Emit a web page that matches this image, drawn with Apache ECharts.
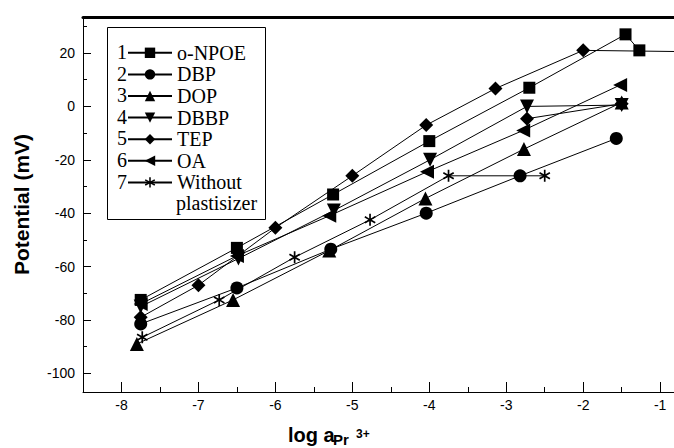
<!DOCTYPE html>
<html><head><meta charset="utf-8">
<script src="https://cdn.jsdelivr.net/npm/echarts@6/dist/echarts.min.js"></script>
<style>html,body{margin:0;padding:0;background:#fff}#c{width:674px;height:448px}</style>
</head><body><div id="c"></div>
<script>
// ---- data ----
const seriesNames = ['o-NPOE', 'DBP', 'DOP', 'DBBP', 'TEP', 'OA', 'Without\nplastisizer'];
const legendNumbers = ['1', '2', '3', '4', '5', '6', '7'];

const npoeX = [-7.75, -6.5, -5.25, -4.0, -2.7, -1.45, -1.27];
const npoeY = [-72.5, -53, -33, -13, 7, 27, 21];

const dbpX = [-7.75, -6.5, -5.28, -4.04, -2.82, -1.57];
const dbpY = [-81.5, -68, -53.5, -40, -26, -12];

const dopX = [-7.8, -6.55, -5.3, -4.05, -2.77, -1.5];
const dopY = [-89, -72.5, -54, -34.5, -16, 1.5];

const dbbpX = [-7.75, -6.48, -5.24, -3.99, -2.73, -1.5];
const dbbpY = [-75, -57, -39, -20, 0, 0.5];

const tepX = [-7.75, -7.0, -6.0, -5.0, -4.04, -3.14, -2.0, -0.6];
const tepY = [-79, -67, -45.5, -26, -7, 6.7, 21, 20.5];
const tep2X = [-2.73, -1.5];
const tep2Y = [-4.6, 1];

const oaX = [-7.75, -6.5, -5.3, -4.03, -2.78, -1.52];
const oaY = [-74, -56, -41, -24.5, -9, 8];

const withoutX = [-7.73, -6.73, -5.75, -4.77, -3.75, -2.5];
const withoutY = [-86.5, -72.5, -56.5, -42.5, -26, -26];

const xTickValues = [-8, -7, -6, -5, -4, -3, -2, -1];
const xMinorValues = [-7.5, -6.5, -5.5, -4.5, -3.5, -2.5, -1.5];
const yTickValues = [-100, -80, -60, -40, -20, 0, 20];
const yMinorValues = [-90, -70, -50, -30, -10, 10, 30];

const xTitleParts = ['log a', 'Pr', '3+'];
const yTitle = 'Potential (mV)';

// ---- helpers ----
function asterisk() {
  const R = 50, w = 7, pts = [];
  for (let k = 0; k < 6; k++) {
    const a = (90 + 60 * k) * Math.PI / 180;
    const dx = Math.cos(a), dy = -Math.sin(a);
    const px = Math.cos(a + Math.PI / 2), py = -Math.sin(a + Math.PI / 2);
    pts.push([50 + R * dx - w * px, 50 + R * dy - w * py]);
    pts.push([50 + R * dx + w * px, 50 + R * dy + w * py]);
    const b = a + Math.PI / 6, ri = w / Math.sin(Math.PI / 6);
    pts.push([50 + ri * Math.cos(b), 50 - ri * Math.sin(b)]);
  }
  return 'path://M' + pts.map(p => p[0].toFixed(2) + ' ' + p[1].toFixed(2)).join(' L') + ' Z';
}
function zip(xs, ys) { return xs.map((x, i) => [x, ys[i]]); }
function mk(name, xs, ys, symbol, size, rot) {
  return {
    type: 'line', name: name, data: zip(xs, ys), symbol: symbol, symbolSize: size,
    symbolRotate: rot || 0, symbolKeepAspect: true, showAllSymbol: true,
    lineStyle: { color: '#000', width: 1 }, itemStyle: { color: '#000' },
    emphasis: { disabled: true }, animation: false, clip: true
  };
}

const chart = echarts.init(document.getElementById('c'), null, { renderer: 'svg' });
const axisMin = -8.5, axisMax = -0.82, yMin = -107, yMax = 33.5;
const lab = { color: '#000', fontFamily: 'Liberation Sans, Arial', fontSize: 14 };
const blk = { color: '#000', width: 1 };
const serif = 'Liberation Serif, Times New Roman';
const sans = 'Liberation Sans, Arial';

const numberTexts = legendNumbers.map((n, i) => ({
  type: 'text', left: 117, top: 42 + i * 21.6,
  style: { text: n, fontFamily: serif, fontSize: 20, fill: '#000' }
}));

chart.setOption({
  animation: false,
  grid: { left: 83, top: 17, right: 0, bottom: 56, containLabel: false },
  xAxis: [
    { type: 'value', min: axisMin, max: axisMax, position: 'bottom',
      axisLine: { show: true, onZero: false, lineStyle: blk },
      axisTick: { show: true, inside: true, length: 10, customValues: xTickValues, lineStyle: blk },
      axisLabel: { customValues: xTickValues, margin: 6, ...lab },
      splitLine: { show: false } },
    { type: 'value', min: axisMin, max: axisMax, position: 'bottom',
      axisLine: { show: false, onZero: false },
      axisTick: { show: true, inside: true, length: 5, customValues: xMinorValues, lineStyle: blk },
      axisLabel: { show: false }, splitLine: { show: false } },
    { type: 'value', min: axisMin, max: axisMax, position: 'top',
      axisLine: { show: true, onZero: false, lineStyle: { color: '#000', width: 3 } },
      axisTick: { show: false }, axisLabel: { show: false }, splitLine: { show: false } }
  ],
  yAxis: [
    { type: 'value', min: yMin, max: yMax, position: 'left',
      axisLine: { show: true, onZero: false, lineStyle: blk },
      axisTick: { show: true, inside: true, length: 8, customValues: yTickValues, lineStyle: blk },
      axisLabel: { customValues: yTickValues, margin: 8, ...lab },
      splitLine: { show: false },
      name: yTitle, nameLocation: 'middle', nameGap: 51,
      nameTextStyle: { fontSize: 21, fontWeight: 'bold', fontFamily: sans, color: '#000' } },
    { type: 'value', min: yMin, max: yMax, position: 'left',
      axisLine: { show: false, onZero: false },
      axisTick: { show: true, inside: true, length: 4, customValues: yMinorValues, lineStyle: blk },
      axisLabel: { show: false }, splitLine: { show: false } }
  ],
  legend: {
    orient: 'vertical', left: 127, top: 42, padding: 0, itemGap: 0,
    itemWidth: 44, itemHeight: 13, selectedMode: false,
    formatter: function (name) { return name.split('\n')[0]; },
    textStyle: { fontFamily: serif, fontSize: 20, color: '#000', lineHeight: 21.6 },
    data: seriesNames
  },
  graphic: [
    { type: 'rect', shape: { x: 107.5, y: 27.5, width: 158, height: 192 },
      style: { fill: 'none', stroke: '#000', lineWidth: 1 }, z: 10 },
    { type: 'text', left: 176, top: 193,
      style: { text: seriesNames[6].split('\n')[1], fontFamily: serif, fontSize: 20, fill: '#000' } },
    { type: 'text', x: 288, y: 435,
      style: { text: xTitleParts[0], fontSize: 20, fontWeight: 'bold', fontFamily: sans, fill: '#000', verticalAlign: 'middle' } },
    { type: 'text', x: 333, y: 439.5,
      style: { text: xTitleParts[1], fontSize: 15, fontWeight: 'bold', fontFamily: sans, fill: '#000', verticalAlign: 'middle' } },
    { type: 'text', x: 356, y: 433.5,
      style: { text: xTitleParts[2], fontSize: 12, fontWeight: 'bold', fontFamily: sans, fill: '#000', verticalAlign: 'middle' } }
  ].concat(numberTexts),
  series: [
    mk(seriesNames[0], npoeX, npoeY, 'rect', 12),
    mk(seriesNames[1], dbpX, dbpY, 'circle', 13),
    mk(seriesNames[2], dopX, dopY, 'triangle', 14),
    mk(seriesNames[3], dbbpX, dbbpY, 'triangle', 14, 180),
    mk(seriesNames[4], tepX, tepY, 'diamond', 14),
    mk('TEP ', tep2X, tep2Y, 'diamond', 14),
    mk(seriesNames[5], oaX, oaY, 'triangle', 14, 90),
    mk(seriesNames[6], withoutX, withoutY, asterisk(), 12)
  ]
});
</script></body></html>
